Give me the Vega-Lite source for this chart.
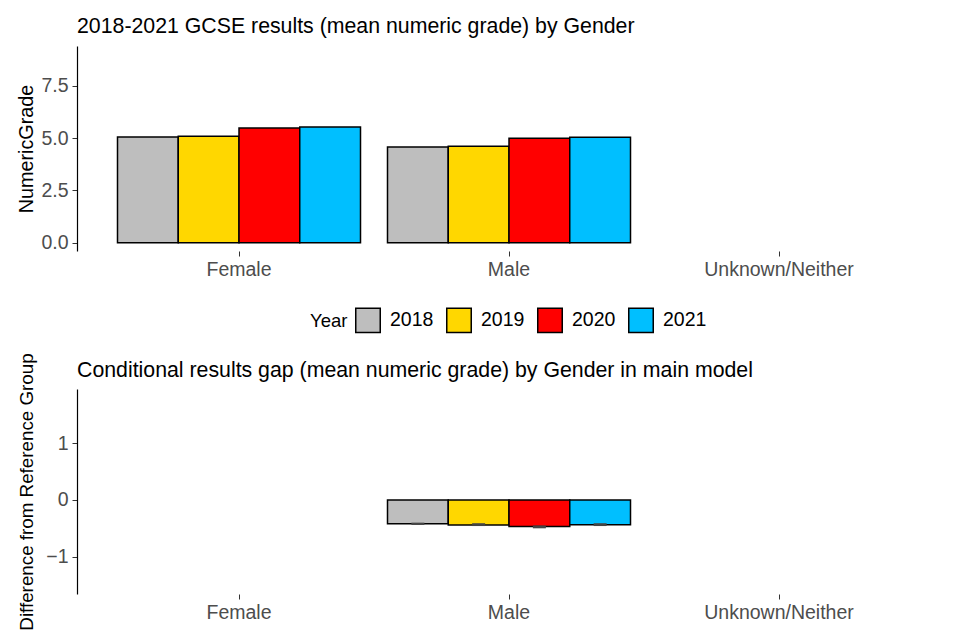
{
  "$schema": "https://vega.github.io/schema/vega-lite/v6.json",
  "padding": {"left": 16, "top": 15, "right": 0, "bottom": 0},
  "background": "white",
  "config": {
    "font": "Liberation Sans",
    "view": {"stroke": null},
    "axis": {"grid": false, "labelFont": "Liberation Sans", "titleFont": "Liberation Sans", "labelColor": "#4D4D4D", "labelFontSize": 19.5, "titleColor": "black", "titleFontSize": 19.8, "titleFontWeight": "normal", "tickColor": "#333333", "tickSize": 5, "tickWidth": 1, "labelPadding": 4, "domainColor": "black", "domainWidth": 1.2},
    "title": {"font": "Liberation Sans", "fontSize": 21.3, "fontWeight": "normal", "color": "black", "anchor": "start", "frame": "group", "offset": 9},
    "legend": {"labelFont": "Liberation Sans", "titleFont": "Liberation Sans"}
  },
  "datasets": {
    "grades": [
      {"Gender": "Female", "Year": "2018", "NumericGrade": 5.05},
      {"Gender": "Female", "Year": "2019", "NumericGrade": 5.09},
      {"Gender": "Female", "Year": "2020", "NumericGrade": 5.49},
      {"Gender": "Female", "Year": "2021", "NumericGrade": 5.53},
      {"Gender": "Male", "Year": "2018", "NumericGrade": 4.58},
      {"Gender": "Male", "Year": "2019", "NumericGrade": 4.61},
      {"Gender": "Male", "Year": "2020", "NumericGrade": 4.99},
      {"Gender": "Male", "Year": "2021", "NumericGrade": 5.04}
    ],
    "gaps": [
      {"Gender": "Male", "Year": "2018", "Difference": -0.42, "lo": -0.44, "hi": -0.40},
      {"Gender": "Male", "Year": "2019", "Difference": -0.44, "lo": -0.46, "hi": -0.41},
      {"Gender": "Male", "Year": "2020", "Difference": -0.47, "lo": -0.50, "hi": -0.45},
      {"Gender": "Male", "Year": "2021", "Difference": -0.435, "lo": -0.46, "hi": -0.41}
    ]
  },
  "vconcat": [
    {
      "width": 864,
      "height": 205,
      "title": "2018-2021 GCSE results (mean numeric grade) by Gender",
      "data": {"name": "grades"},
      "mark": {"type": "bar", "stroke": "black", "strokeWidth": 1.5},
      "encoding": {
        "x": {"field": "Gender", "type": "nominal", "scale": {"domain": ["Female", "Male", "Unknown/Neither"], "paddingInner": 0.1, "paddingOuter": 0.15}, "axis": {"title": null, "labelAngle": 0, "domain": false}},
        "xOffset": {"field": "Year", "type": "nominal"},
        "y": {"field": "NumericGrade", "type": "quantitative", "scale": {"domain": [-0.4, 9.41], "nice": false, "zero": false}, "axis": {"title": "NumericGrade", "values": [0, 2.5, 5, 7.5], "format": ".1f", "titleX": -45, "titleBaseline": "alphabetic"}},
        "color": {"field": "Year", "type": "nominal", "scale": {"domain": ["2018", "2019", "2020", "2021"], "range": ["#BEBEBE", "#FFD700", "#FF0000", "#00BFFF"]},
          "legend": {"orient": "none", "legendX": 233, "legendY": 261, "direction": "horizontal", "titleOrient": "left", "title": "Year", "symbolType": "square", "symbolSize": 600, "symbolStrokeColor": "black", "symbolStrokeWidth": 1.5, "symbolOpacity": 1, "labelFontSize": 19.5, "titleFontSize": 18.5, "titleFontWeight": "normal", "titleColor": "black", "labelColor": "black", "labelOffset": 9, "columnPadding": 9, "titlePadding": 7, "titleBaseline": "middle"}}
      }
    },
    {
      "width": 864,
      "height": 205,
      "title": {"text": "Conditional results gap (mean numeric grade) by Gender in main model", "offset": -28},
      "data": {"name": "gaps"},
      "encoding": {
        "x": {"field": "Gender", "type": "nominal", "scale": {"domain": ["Female", "Male", "Unknown/Neither"], "paddingInner": 0.1, "paddingOuter": 0.15}, "axis": {"title": null, "labelAngle": 0, "domain": false}},
        "xOffset": {"field": "Year", "type": "nominal"}
      },
      "layer": [
        {
          "mark": {"type": "bar", "stroke": "black", "strokeWidth": 1.5},
          "encoding": {
            "y": {"field": "Difference", "type": "quantitative", "scale": {"domain": [-1.66, 1.96], "nice": false, "zero": false}, "axis": {"title": "Difference from Reference Group", "titleFontSize": 18.8, "values": [-1, 0, 1], "format": "d", "titleX": -45, "titleBaseline": "alphabetic"}},
            "y2": {"datum": 0},
            "color": {"field": "Year", "type": "nominal", "scale": {"domain": ["2018", "2019", "2020", "2021"], "range": ["#BEBEBE", "#FFD700", "#FF0000", "#00BFFF"]},
              "legend": {"orient": "none", "legendX": 233, "legendY": 261, "direction": "horizontal", "titleOrient": "left", "title": "Year", "symbolType": "square", "symbolSize": 600, "symbolStrokeColor": "black", "symbolStrokeWidth": 1.5, "symbolOpacity": 1, "labelFontSize": 19.5, "titleFontSize": 18.5, "titleFontWeight": "normal", "titleColor": "black", "labelColor": "black", "labelOffset": 9, "columnPadding": 9, "titlePadding": 7, "titleBaseline": "middle"}}
          }
        },
        {
          "mark": {"type": "bar", "width": 13, "color": "#444444", "stroke": null},
          "encoding": {
            "y": {"field": "lo", "type": "quantitative"},
            "y2": {"field": "hi"}
          }
        }
      ]
    }
  ],
  "spacing": 138,
  "bounds": "flush"
}
